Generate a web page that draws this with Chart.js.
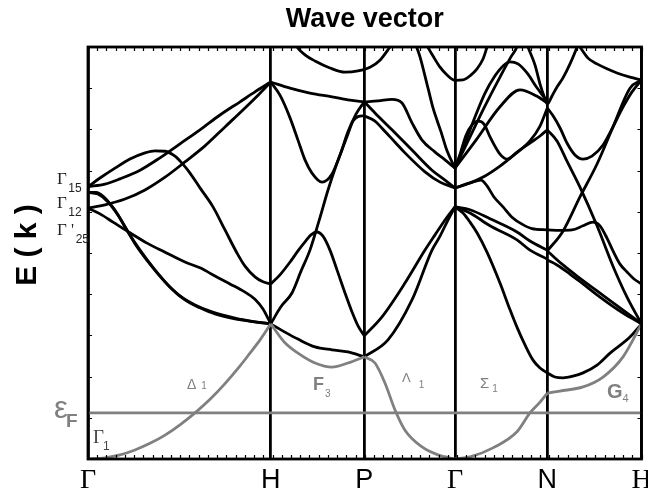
<!DOCTYPE html>
<html>
<head>
<meta charset="utf-8">
<title>Band structure</title>
<script src="https://cdn.jsdelivr.net/npm/chart.js@4/dist/chart.umd.min.js"></script>
<style>
  html, body { margin: 0; padding: 0; background: #fff; }
</style>
</head>
<body>
<canvas id="bands" width="648" height="492"></canvas>
<script>
// high-symmetry points along the path, in path units
const kLabels = ['Γ', 'H', 'P', 'Γ', 'N', 'H'];
const kPoints = [0, 1.981, 2.995, 3.978, 4.979, 6];
const fermiLevel = 1.12;

// band energies as [k, E] pairs, one array per branch
const gammaH = [
  [[0,6.61],[0.130,6.82],[0.293,7.06],[0.455,7.28],[0.618,7.43],[0.726,7.48],[0.835,7.47],[0.943,7.35],[1.019,7.18],[1.106,6.94],[1.214,6.58],[1.355,6.12],[1.485,5.56],[1.615,5.00],[1.702,4.68],[1.810,4.42],[1.897,4.30],[1.981,4.25]],
  [[0,6.61],[0.184,6.67],[0.347,6.80],[0.564,7.01],[0.780,7.31],[0.997,7.65],[1.214,7.99],[1.431,8.35],[1.648,8.67],[1.810,8.91],[1.981,9.15]],
  [[0,6.09],[0.184,6.17],[0.401,6.31],[0.618,6.53],[0.835,6.84],[1.051,7.21],[1.268,7.60],[1.485,8.06],[1.702,8.52],[1.865,8.88],[1.981,9.15]],
  [[0,6.47],[0.108,6.43],[0.217,6.24],[0.325,5.92],[0.434,5.51],[0.564,5.07],[0.726,4.59],[0.889,4.17],[1.051,3.86],[1.214,3.67],[1.377,3.52],[1.593,3.40],[1.810,3.33],[1.981,3.28]],
  [[0,6.47],[0.087,6.47],[0.173,6.36],[0.282,6.07],[0.390,5.68],[0.520,5.19],[0.672,4.73],[0.835,4.30],[0.997,3.96],[1.160,3.74],[1.344,3.57],[1.593,3.42],[1.810,3.33],[1.981,3.28]],
  [[0,6.09],[0.130,5.95],[0.271,5.75],[0.455,5.49],[0.640,5.24],[0.835,5.02],[1.051,4.78],[1.214,4.64],[1.377,4.44],[1.539,4.25],[1.702,4.05],[1.810,3.88],[1.897,3.64],[1.981,3.28]]
];

const hP = [
  [[1.981,9.15],[2.190,9.00],[2.406,8.88],[2.645,8.79],[2.840,8.71],[2.995,8.67]],
  [[1.981,9.15],[2.081,8.83],[2.190,8.28],[2.276,7.74],[2.352,7.26],[2.428,6.94],[2.537,6.72],[2.645,6.92],[2.732,7.38],[2.818,7.94],[2.905,8.37],[2.995,8.67]],
  [[1.981,4.25],[2.081,4.47],[2.190,4.78],[2.276,5.05],[2.352,5.27],[2.417,5.44],[2.482,5.51],[2.547,5.41],[2.623,5.07],[2.699,4.59],[2.786,4.03],[2.862,3.57],[2.927,3.23],[2.995,2.99]],
  [[1.981,3.28],[2.089,3.69],[2.211,4.03],[2.309,4.56],[2.406,5.07],[2.504,5.78],[2.602,6.53],[2.688,7.11],[2.753,7.50],[2.818,7.89],[2.873,8.20],[2.927,8.31],[2.995,8.33]],
  [[1.981,3.28],[2.135,3.08],[2.276,2.91],[2.461,2.72],[2.645,2.65],[2.818,2.60],[2.995,2.48]]
];

const pGamma = [
  [[2.995,8.67],[3.144,8.69],[3.295,8.73],[3.404,8.64],[3.512,8.16],[3.621,7.74],[3.762,7.45],[3.870,7.26],[3.978,7.06]],
  [[2.995,8.67],[3.111,8.40],[3.295,7.99],[3.512,7.50],[3.729,7.01],[3.870,6.77],[3.978,6.58]],
  [[2.995,8.33],[3.111,8.20],[3.187,8.03],[3.328,7.69],[3.436,7.43],[3.653,6.97],[3.816,6.72],[3.978,6.58]],
  [[3.539,10.17],[3.563,10.0],[3.599,9.76],[3.686,9.00],[3.740,8.52],[3.827,7.94],[3.892,7.48],[3.978,7.06]],
  [[2.995,2.99],[3.187,3.45],[3.436,4.27],[3.653,5.07],[3.762,5.44],[3.870,5.80],[3.978,6.12]],
  [[2.995,2.48],[3.252,2.89],[3.512,3.86],[3.729,5.07],[3.816,5.41],[3.902,5.80],[3.978,6.12]]
];

const gammaN = [
  [[3.978,7.06],[4.141,7.82],[4.304,8.57],[4.466,9.27],[4.585,9.76],[4.650,10.0],[4.672,10.15]],
  [[3.978,7.06],[4.087,7.67],[4.195,8.30],[4.304,8.88],[4.412,9.30],[4.499,9.54],[4.575,9.64],[4.661,9.59],[4.759,9.37],[4.867,9.01],[4.979,8.67]],
  [[3.978,7.06],[4.206,7.74],[4.466,8.55],[4.683,8.96],[4.863,8.81],[4.979,8.64]],
  [[3.978,7.06],[4.033,7.40],[4.098,7.86],[4.163,8.11],[4.228,8.20],[4.293,8.13],[4.358,7.82],[4.466,7.40],[4.542,7.28],[4.650,7.45],[4.791,7.67],[4.900,7.84],[4.979,7.99]],
  [[3.978,6.58],[4.141,6.70],[4.304,6.87],[4.466,7.11],[4.629,7.40],[4.791,7.72],[4.900,8.08],[4.979,8.52]],
  [[3.978,6.58],[4.141,6.70],[4.260,6.77],[4.325,6.63],[4.401,6.36],[4.499,6.12],[4.596,5.87],[4.705,5.70],[4.813,5.59],[4.979,5.56]],
  [[3.978,6.12],[4.141,6.05],[4.358,5.83],[4.650,5.51],[4.791,5.29],[4.979,5.07]],
  [[3.978,6.12],[4.141,5.97],[4.358,5.66],[4.650,5.32],[4.791,5.07],[4.979,4.85]]
];

const nH = [
  [[4.979,8.52],[5.041,8.33],[5.116,8.04],[5.192,7.67],[5.279,7.38],[5.366,7.28],[5.463,7.35],[5.583,7.62],[5.691,8.06],[5.789,8.50],[5.897,8.91],[6.0,9.20]],
  [[5.290,10.15],[5.333,10.0],[5.420,9.73],[5.518,9.59],[5.626,9.47],[5.734,9.37],[5.875,9.27],[6.0,9.20]],
  [[4.979,7.99],[5.084,7.72],[5.192,7.23],[5.333,6.60],[5.518,5.66],[5.691,4.68],[5.843,3.93],[6.0,3.28]],
  [[4.979,5.05],[5.149,5.53],[5.333,6.36],[5.518,7.16],[5.691,8.06],[5.875,9.00],[6.0,9.20]],
  [[4.979,5.56],[5.116,5.55],[5.246,5.56],[5.366,5.66],[5.474,5.75],[5.550,5.66],[5.626,5.36],[5.691,5.05],[5.767,4.73],[5.843,4.54],[5.919,4.37],[6.0,4.25]],
  [[4.979,5.05],[5.062,4.88],[5.149,4.71],[5.301,4.44],[5.518,4.08],[5.767,3.67],[6.0,3.28]],
  [[4.979,4.83],[5.084,4.71],[5.225,4.49],[5.366,4.25],[5.550,3.93],[5.800,3.54],[6.0,3.28]]
];

// branches that run smoothly through a zone-boundary point
const throughBands = [
  [[2.233,10.15],[2.266,10.0],[2.352,9.81],[2.461,9.66],[2.623,9.49],[2.786,9.39],[2.927,9.42],[3.057,9.51],[3.165,9.68],[3.274,10.0],[3.306,10.1]],
  [[3.664,10.07],[3.740,9.78],[3.816,9.51],[3.892,9.32],[3.978,9.19],[4.065,9.20],[4.141,9.30],[4.217,9.47],[4.282,9.71],[4.336,10.07]],
  [[4.748,10.15],[4.770,10.0],[4.846,9.56],[4.900,9.10],[4.943,8.81],[4.979,8.62],[5.030,8.81],[5.084,9.03],[5.149,9.25],[5.225,9.59],[5.301,10.0],[5.322,10.15]],
  [[3.978,6.12],[4.065,5.97],[4.141,5.75],[4.217,5.49],[4.325,5.02],[4.466,4.27],[4.575,3.62],[4.650,3.20],[4.737,2.77],[4.824,2.40],[4.900,2.21],[4.979,2.09],[5.062,1.99],[5.149,1.97],[5.257,2.01],[5.366,2.09],[5.518,2.28],[5.659,2.57],[5.875,2.96],[6.0,3.28]]
];

// the lowest (s-like) band, drawn in grey
const sBand = [
  [[0,0],[0.184,0.03],[0.347,0.10],[0.509,0.22],[0.672,0.38],[0.835,0.58],[0.997,0.83],[1.160,1.12],[1.323,1.45],[1.485,1.83],[1.648,2.26],[1.756,2.57],[1.865,2.89],[1.981,3.28]],
  [[1.981,3.28],[2.135,2.82],[2.276,2.57],[2.461,2.33],[2.645,2.23],[2.818,2.33],[2.995,2.48]],
  [[2.995,2.48],[3.111,2.33],[3.220,1.84],[3.328,1.19],[3.436,0.70],[3.617,0.30],[3.794,0.10],[3.978,0]],
  [[3.978,0],[4.141,0.05],[4.390,0.27],[4.650,0.66],[4.791,1.12],[4.900,1.38],[4.979,1.60]],
  [[4.979,1.60],[5.116,1.65],[5.366,1.75],[5.583,1.99],[5.800,2.48],[6.0,3.28]]
];

const SANS = '"Liberation Sans", Arial, sans-serif';
const SERIF = '"Liberation Serif", "Times New Roman", serif';
const BLACK = '#000';
const GREY = '#808080';

// symmetry labels of the s band, placed at [k, E]
const bandTags = [
  { main: 'Δ', sub: '1', k: 1.073, E: 1.70, font: '14px ' + SANS, subFont: '10px ' + SANS, dx: 5, dy: 0, color: GREY },
  { main: 'F', sub: '3', k: 2.439, E: 1.67, font: 'bold 18px ' + SANS, subFont: '10px ' + SANS, dx: 1, dy: 7, color: GREY },
  { main: 'Λ', sub: '1', k: 3.404, E: 1.87, font: '13px ' + SANS, subFont: '10px ' + SANS, dx: 8, dy: 6, color: GREY },
  { main: 'Σ', sub: '1', k: 4.249, E: 1.72, font: '15px ' + SANS, subFont: '10px ' + SANS, dx: 3, dy: 4, color: GREY },
  { main: 'G', sub: '4', k: 5.626, E: 1.48, font: 'bold 20px ' + SANS, subFont: '11px ' + SANS, dx: 0, dy: 4, color: GREY },
  { main: 'Γ', sub: '1', k: 0.054, E: 0.39, font: '19px ' + SERIF, subFont: '12px ' + SANS, dx: -1, dy: 7, color: '#444' }
];

// levels at Γ, written left of the frame
const gammaLevels = [
  { main: 'Γ', sub: '15', E: 6.67, dy: 8 },
  { main: 'Γ', sub: '12', E: 6.09, dy: 8 },
  { main: "Γ '", sub: '25', E: 5.44, dy: 8 }
];

function drawTag(ctx, t, x, y) {
  ctx.fillStyle = t.color;
  ctx.font = t.font;
  ctx.fillText(t.main, x, y);
  const w = ctx.measureText(t.main).width;
  ctx.font = t.subFont;
  ctx.fillText(t.sub, x + w + t.dx, y + t.dy);
}

const decorations = {
  id: 'decorations',
  afterDraw(chart) {
    const { ctx, chartArea: a, scales: { x, y } } = chart;
    ctx.save();

    // frame with small inward ticks
    ctx.strokeStyle = BLACK;
    ctx.lineWidth = 2.8;
    ctx.strokeRect(a.left, a.top, a.right - a.left, a.bottom - a.top);
    ctx.lineWidth = 1.2;
    ctx.beginPath();
    for (let i = 0; i <= 60; i++) {
      const px = Math.round(x.getPixelForValue(i / 10)) + 0.5;
      ctx.moveTo(px, a.bottom); ctx.lineTo(px, a.bottom - 4);
      ctx.moveTo(px, a.top); ctx.lineTo(px, a.top + 4);
    }
    for (let e = 0; e <= 10; e++) {
      const py = Math.round(y.getPixelForValue(e)) + 0.5;
      ctx.moveTo(a.left, py); ctx.lineTo(a.left + 4, py);
      ctx.moveTo(a.right, py); ctx.lineTo(a.right - 4, py);
    }
    ctx.stroke();

    // symmetry point names under the frame
    ctx.fillStyle = BLACK;
    ctx.textAlign = 'center';
    ctx.textBaseline = 'alphabetic';
    kPoints.forEach((k, i) => {
      const serif = kLabels[i] === 'Γ' || i === kPoints.length - 1;
      ctx.font = (serif ? '28px ' + SERIF : '27px ' + SANS);
      ctx.fillText(kLabels[i], x.getPixelForValue(k), 488);
    });

    // axis name
    ctx.save();
    ctx.translate(28, 245);
    ctx.rotate(-Math.PI / 2);
    ctx.font = 'bold 30px ' + SANS;
    ctx.textBaseline = 'middle';
    ctx.fillText('E ( k )', 0, 0);
    ctx.restore();

    ctx.textAlign = 'left';
    gammaLevels.forEach(g => {
      const py = y.getPixelForValue(g.E);
      drawTag(ctx, { main: g.main, sub: g.sub, font: '17px ' + SERIF, subFont: '12px ' + SANS, dx: 1.5, dy: g.dy, color: '#222' }, a.left - 31, py);
    });

    bandTags.forEach(t => drawTag(ctx, t, x.getPixelForValue(t.k), y.getPixelForValue(t.E)));

    // Fermi level name
    const fy = y.getPixelForValue(fermiLevel);
    ctx.fillStyle = GREY;
    ctx.font = '31px ' + SANS;
    ctx.fillText('ε', a.left - 34, fy + 5);
    ctx.font = 'bold 19px ' + SANS;
    ctx.fillText('F', a.left - 22, fy + 14);

    ctx.restore();
  }
};

function branch(points, color) {
  return {
    data: points.map(([k, e]) => ({ x: k, y: e })),
    borderColor: color,
    borderWidth: 2.8,
    pointRadius: 0,
    fill: false,
    cubicInterpolationMode: 'monotone',
    clip: 0
  };
}

const datasets = [];
sBand.forEach(b => datasets.push(branch(b, GREY)));
datasets.push(branch([[0, fermiLevel], [6, fermiLevel]], GREY));
[gammaH, hP, pGamma, gammaN, nH, throughBands].forEach(group =>
  group.forEach(b => datasets.push(branch(b, BLACK))));

new Chart(document.getElementById('bands'), {
  type: 'line',
  data: { datasets },
  options: {
    responsive: false,
    animation: false,
    layout: { padding: { left: 88, right: 6.5, top: 0, bottom: 33 } },
    plugins: {
      legend: { display: false },
      tooltip: { enabled: false },
      title: {
        display: true,
        text: 'Wave vector',
        color: BLACK,
        font: { family: SANS, size: 27, weight: 'bold' },
        padding: { top: 3, bottom: 11.6 }
      }
    },
    scales: {
      x: {
        type: 'linear',
        min: 0,
        max: 6,
        afterBuildTicks: scale => { scale.ticks = kPoints.map(v => ({ value: v })); },
        ticks: { display: false },
        grid: { color: BLACK, lineWidth: 2.8, drawTicks: false },
        border: { display: false }
      },
      y: {
        display: false,
        min: 0,
        max: 10
      }
    }
  },
  plugins: [decorations]
});
</script>
</body>
</html>
